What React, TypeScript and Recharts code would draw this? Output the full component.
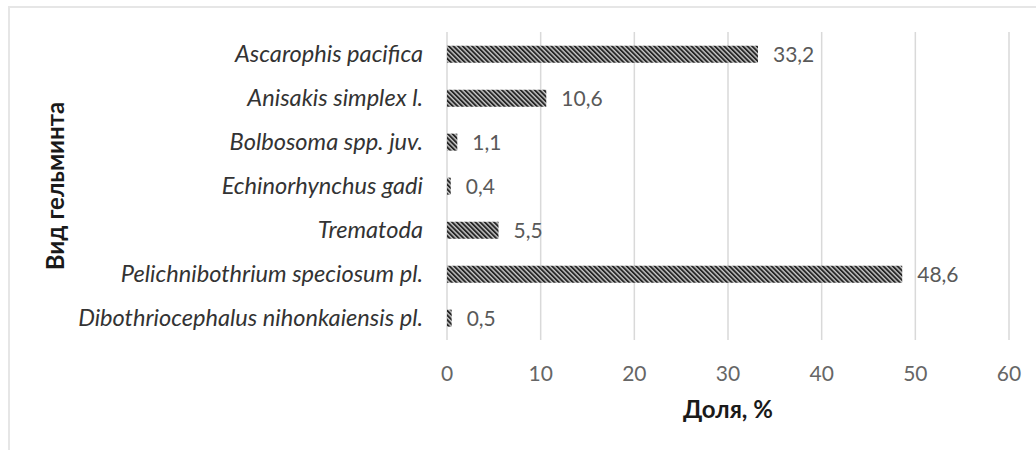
import * as React from 'react';
import { BarChart, Bar, XAxis, YAxis, CartesianGrid, LabelList } from 'recharts';

// Helminth species, top to bottom as in the figure
const SPECIES = [
  'Ascarophis pacifica',
  'Anisakis simplex l.',
  'Bolbosoma spp. juv.',
  'Echinorhynchus gadi',
  'Trematoda',
  'Pelichnibothrium speciosum pl.',
  'Dibothriocephalus nihonkaiensis pl.',
];

// Share, %
const SHARE = [33.2, 10.6, 1.1, 0.4, 5.5, 48.6, 0.5];

const X_TICKS = [0, 10, 20, 30, 40, 50, 60];

const FONT = 'Lato, "Open Sans", sans-serif';

export default function App() {
  const data = SPECIES.map((name, i) => ({ name, value: SHARE[i] }));

  return (
    <div
      style={{
        position: 'absolute',
        left: 0,
        top: 0,
        width: 1036,
        height: 450,
        background: '#fff',
        fontFamily: FONT,
        overflow: 'hidden',
      }}
    >
      <div
        style={{
          position: 'absolute',
          left: 8,
          top: 6,
          width: 1040,
          height: 460,
          borderTop: '2px solid #e6e6e6',
          borderLeft: '2px solid #e6e6e6',
        }}
      />
      <BarChart
        width={1036}
        height={450}
        layout="vertical"
        data={data}
        margin={{ top: 32, right: 27, left: 70, bottom: 30 }}
        barCategoryGap="31%"
        style={{ position: 'absolute', left: 0, top: 0 }}
      >
        <defs>
          <pattern
            id="hatch"
            width="3.3"
            height="3.3"
            patternUnits="userSpaceOnUse"
            patternTransform="rotate(-45)"
          >
            <rect width="3.3" height="3.3" fill="#c8c8c8" />
            <rect width="1.9" height="3.3" fill="#262626" />
          </pattern>
        </defs>
        <CartesianGrid horizontal={false} stroke="#d9d9d9" strokeWidth={1.5} />
        <XAxis
          type="number"
          domain={[0, 60]}
          ticks={X_TICKS}
          height={80}
          axisLine={false}
          tickLine={false}
          tickMargin={20}
          tick={{ fill: '#666', fontSize: 21, fontFamily: FONT }}
          label={{
            value: 'Доля, %',
            position: 'insideBottom',
            offset: 2,
            style: { fill: '#1a1a1a', fontSize: 24, fontWeight: 700, fontFamily: FONT },
          }}
        />
        <YAxis
          type="category"
          dataKey="name"
          width={377}
          axisLine={false}
          tickLine={false}
          tickMargin={18}
          tick={{ fill: '#333', fontSize: 23.6, fontStyle: 'italic', fontFamily: FONT }}
          label={{
            value: 'Вид гельминта',
            angle: -90,
            position: 'insideLeft',
            offset: -15,
            style: { fill: '#1a1a1a', fontSize: 24, fontWeight: 700, fontFamily: FONT, textAnchor: 'middle' },
          }}
        />
        <Bar dataKey="value" fill="url(#hatch)" isAnimationActive={false}>
          <LabelList
            dataKey="value"
            position="right"
            offset={15}
            formatter={(v: number) => String(v).replace('.', ',')}
            style={{ fill: '#595959', fontSize: 21, fontFamily: FONT }}
          />
        </Bar>
      </BarChart>
    </div>
  );
}
